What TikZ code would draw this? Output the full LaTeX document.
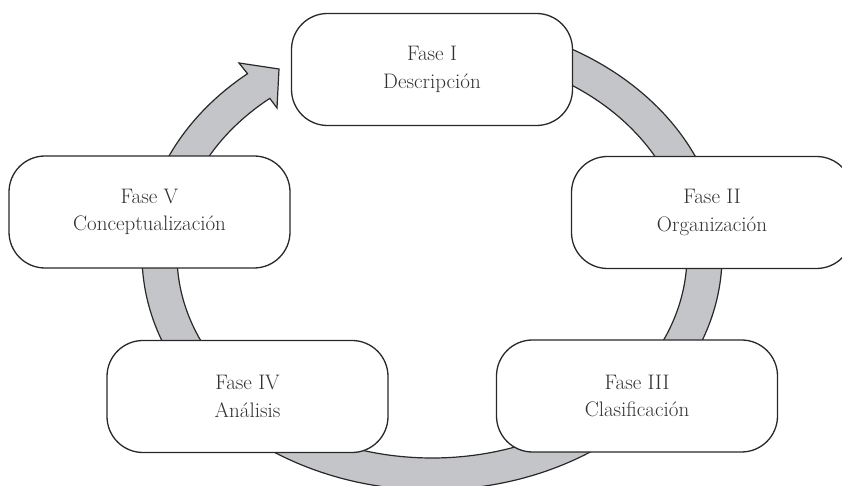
\documentclass[tikz,border=0pt]{standalone}
\usetikzlibrary{calc}
\definecolor{bandfill}{RGB}{196,197,200}
\definecolor{inkline}{RGB}{40,40,40}
\definecolor{inktext}{RGB}{50,50,50}
\begin{document}
\begin{tikzpicture}[x=1pt,y=1pt,
  phase/.style={draw=inkline, line width=1.3pt, fill=white, text=inktext,
    rounded corners=36pt, minimum width=281pt, minimum height=112pt,
    align=center, inner sep=0pt, font=\fontsize{21}{27.5}\selectfont},
  band/.style={fill=bandfill, draw=inkline, line width=1.2pt, line join=miter}]
\useasboundingbox (0,0) rectangle (842,486);

% centre of the elliptical cycle band and the arrow head
\coordinate (c) at (432,231);
\coordinate (hb1) at (239,423);
\coordinate (htip) at (279,417);
\coordinate (hb2) at (277,378);

% grey band running clockwise round the phases, ending in the arrow head
\draw[band]
  ([shift={(100:290pt and 235pt)}]c)
    arc[start angle=100, end angle=-230.5, x radius=290pt, y radius=235pt]
  -- (hb1) -- (htip) -- (hb2)
  -- ([shift={(-230.5:255pt and 203pt)}]c)
    arc[start angle=-230.5, end angle=100, x radius=255pt, y radius=203pt]
  -- cycle;

% the five phases
\node[phase] (f1) at (432,416.5) {Fase I\\Descripción};
\node[phase] (f2) at (712,273.5) {Fase II\\Organización};
\node[phase] (f3) at (637,90) {Fase III\\Clasificación};
\node[phase] (f4) at (247.5,89.5) {Fase IV\\Análisis};
\node[phase] (f5) at (149.5,274) {Fase V\\Conceptualización};
\end{tikzpicture}
\end{document}
